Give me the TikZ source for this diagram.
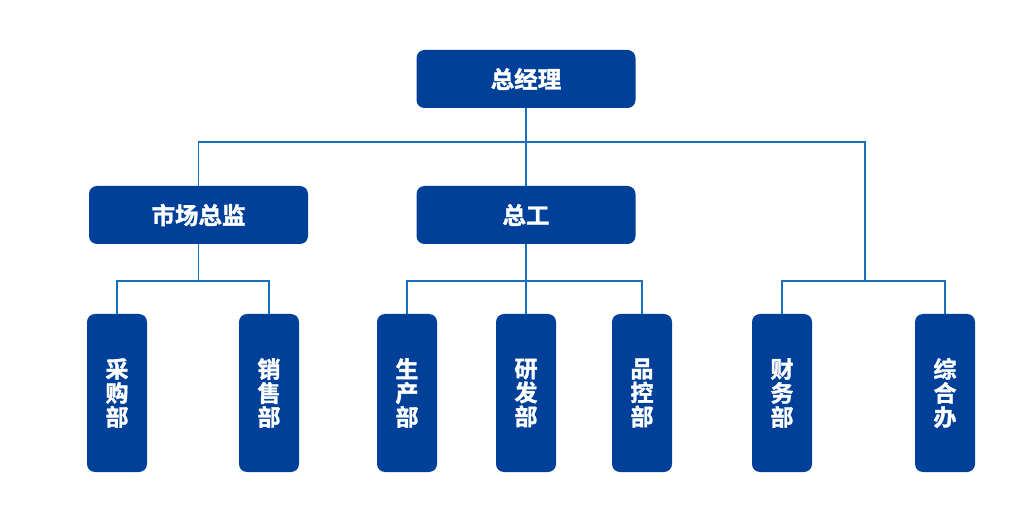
\documentclass[tikz,border=0pt]{standalone}
\usepackage{fontspec}
\setmainfont{Noto Sans CJK SC}
\newfontfamily\cjkbold{Noto Sans CJK SC Bold}[FakeBold=1.6]
\definecolor{boxblue}{RGB}{0, 64, 152}
\definecolor{lineblue}{RGB}{18, 112, 190}
\usetikzlibrary{positioning, calc}

\tikzset{
  headbox/.style={draw=none, fill=boxblue, rounded corners=8pt, minimum width=219pt, minimum height=58pt, text=white, font=\cjkbold\fontsize{23.5}{24}\selectfont, inner sep=0pt},
  deptbox/.style={draw=none, fill=boxblue, rounded corners=8pt, minimum width=60pt, minimum height=158pt, text=white, font=\cjkbold\fontsize{23}{24}\selectfont, align=center, inner sep=0pt},
  link/.style={draw=lineblue, line width=1.2pt}
}

\begin{document}
\begin{tikzpicture}[x=1pt, y=-1pt]
  \useasboundingbox (0,0) rectangle (1028,526);

  % Top levels
  \node[headbox] (gm) at (526, 79) {总经理};
  \node[headbox] (mkt) at (198.5, 215) {市场总监};
  \node[headbox] (eng) at (526, 215) {总工};

  % Departments
  \node[deptbox] (buy) at (117, 393) {采\\购\\部};
  \node[deptbox] (sale) at (269, 393) {销\\售\\部};
  \node[deptbox] (prod) at (407, 393) {生\\产\\部};
  \node[deptbox] (rnd) at (526, 393) {研\\发\\部};
  \node[deptbox] (qc) at (642, 393) {品\\控\\部};
  \node[deptbox] (fin) at (782, 393) {财\\务\\部};
  \node[deptbox] (off) at (945, 393) {综\\合\\办};

  % Bus points
  \coordinate (bus1) at (526, 142);
  \coordinate (adm) at (865, 281);
  \coordinate (bus2) at (198.5, 281);
  \coordinate (bus3) at (526, 281);

  % Connectors
  \draw[link] (gm.south) -- (eng.north);
  \draw[link] (mkt.north) |- (adm |- bus1) -- (adm);
  \draw[link] (fin.north) |- (adm) -| (off.north);
  \draw[link] (mkt.south) -- (bus2);
  \draw[link] (buy.north) |- (bus2) -| (sale.north);
  \draw[link] (eng.south) -- (rnd.north);
  \draw[link] (prod.north) |- (bus3) -| (qc.north);
\end{tikzpicture}
\end{document}
